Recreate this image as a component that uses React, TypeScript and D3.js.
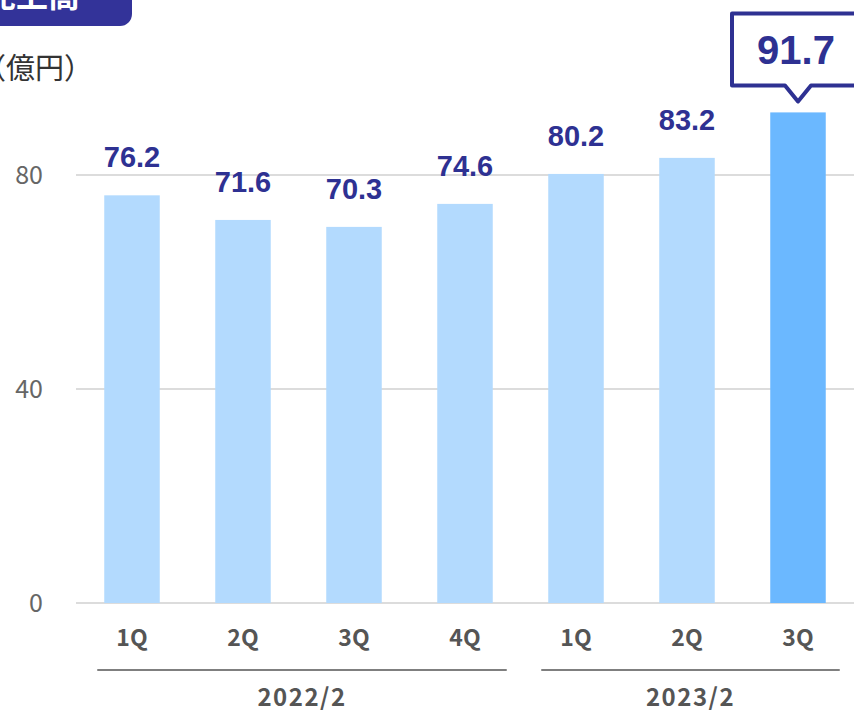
import React from "react";
import * as d3 from "d3";

const categories = ["1Q", "2Q", "3Q", "4Q", "1Q ", "2Q ", "3Q "];
const quarterLabels = ["1Q", "2Q", "3Q", "4Q", "1Q", "2Q", "3Q"];
const values = [76.2, 71.6, 70.3, 74.6, 80.2, 83.2, 91.7];
const yTicks = [0, 40, 80];
const groups = [
  { label: "2022/2", from: 0, to: 3 },
  { label: "2023/2", from: 4, to: 6 },
];
const highlightIndex = 6;

const W = 854;
const H = 723;
const FONT = "'Noto Sans CJK JP', 'Noto Sans', sans-serif";
const NUM = "'Liberation Sans', Arial, sans-serif";
const NAVY = "#2e3192";

export default function App() {
  const x = d3
    .scaleBand<string>()
    .domain(categories)
    .range([76.5, 853.5])
    .paddingInner(0.5)
    .paddingOuter(0.25);
  const y = d3.scaleLinear().domain([0, 80]).range([603, 175]);
  const bw = x.bandwidth();

  const hx = (x(categories[highlightIndex]) as number) + bw / 2;
  const hTop = y(values[highlightIndex]);

  return (
    <svg
      width={W}
      height={H}
      style={{ position: "absolute", left: 0, top: 0, fontFamily: FONT }}
    >
      {/* title box (cut off at top) */}
      <path d="M-10,-10 H132 V14 a12,12 0 0 1 -12,12 H-10 Z" fill="#333399" />
      <text x={-16} y={7} fontSize={32} fontWeight={700} fill="#fff">
        売上高
      </text>

      <text x={-23} y={79} fontSize={29} fill="#333">
        （億円）
      </text>

      {/* grid */}
      {yTicks.map((t) => (
        <g key={t}>
          <line x1={76} x2={W} y1={y(t)} y2={y(t)} stroke="#dcdcdc" strokeWidth={2} />
          <text
            x={43}
            y={y(t)}
            dy="0.35em"
            fontSize={25}
            fill="#666"
            textAnchor="end"
          >
            {t}
          </text>
        </g>
      ))}

      {/* bars */}
      {values.map((v, i) => {
        const bx = x(categories[i]) as number;
        return (
          <rect
            key={i}
            x={bx}
            y={y(v)}
            width={bw}
            height={y(0) - y(v)}
            fill={i === highlightIndex ? "#6bb8ff" : "#b3dafe"}
          />
        );
      })}

      {/* value labels */}
      {values.map((v, i) =>
        i === highlightIndex ? null : (
          <text
            key={i}
            x={(x(categories[i]) as number) + bw / 2}
            y={y(v) - 28}
            fontSize={29}
            fontWeight={700}
            fill={NAVY}
            textAnchor="middle"
            fontFamily={NUM}
          >
            {v.toFixed(1)}
          </text>
        )
      )}

      {/* callout */}
      <path
        d={`M${hx + 67},${hTop - 27} H${hx + 13} L${hx},${hTop - 11} L${hx - 13},${hTop - 27} H${hx - 66} V${hTop - 99} H${hx + 67}`}
        fill="#fff"
        stroke={NAVY}
        strokeWidth={4}
        strokeLinejoin="round"
      />
      <text
        x={hx - 2}
        y={hTop - 48}
        fontSize={40}
        fontWeight={700}
        fill={NAVY}
        textAnchor="middle"
        fontFamily={NUM}
      >
        {values[highlightIndex].toFixed(1)}
      </text>

      {/* x labels */}
      {quarterLabels.map((q, i) => (
        <text
          key={i}
          x={(x(categories[i]) as number) + bw / 2}
          y={646}
          fontSize={23}
          fontWeight={700}
          fill="#555"
          textAnchor="middle"
        >
          {q}
        </text>
      ))}

      {/* groups */}
      {groups.map((g) => {
        const x1 = (x(categories[g.from]) as number) - 7;
        const x2 = (x(categories[g.to]) as number) + bw + 14;
        return (
          <g key={g.label}>
            <line x1={x1} x2={x2} y1={670} y2={670} stroke="#555" strokeWidth={1.5} />
            <text
              x={(x1 + x2) / 2}
              y={706}
              fontSize={24}
              fontWeight={700}
              fill="#555"
              textAnchor="middle"
              letterSpacing={1.5}
            >
              {g.label}
            </text>
          </g>
        );
      })}
    </svg>
  );
}
